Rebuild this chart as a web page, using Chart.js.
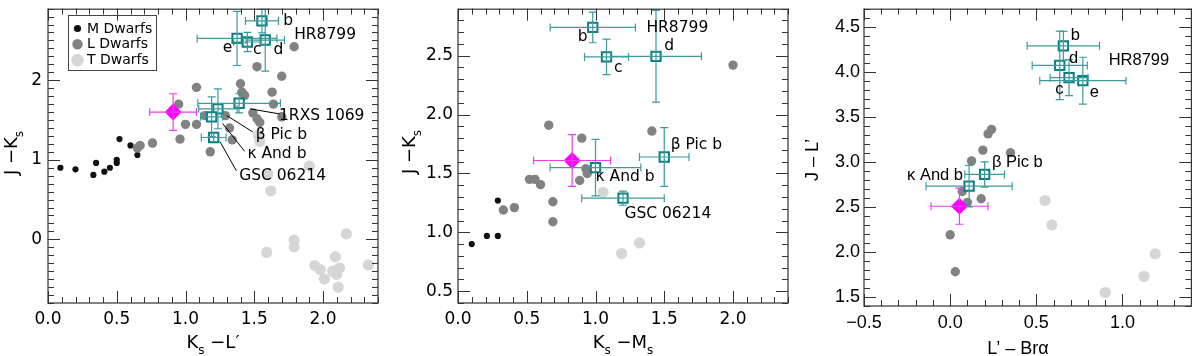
<!DOCTYPE html>
<html>
<head>
<meta charset="utf-8">
<script src="https://cdn.jsdelivr.net/npm/chart.js@4.4.1/dist/chart.umd.min.js"></script>
<style>
  html, body { margin: 0; padding: 0; background: #fff; }
  #wrap { display: flex; width: 1200px; height: 356px; }
  canvas { display: block; }
</style>
</head>
<body>
<div id="wrap">
  <canvas id="c1" width="400" height="356"></canvas>
  <canvas id="c2" width="400" height="356"></canvas>
  <canvas id="c3" width="400" height="356"></canvas>
</div>
<script>
// ---- panel 1: Ks-L' vs J-Ks ----
const p1M = [[0.09,0.90],[0.20,0.88],[0.33,0.81],[0.35,0.96],[0.41,0.85],[0.45,0.90],[0.50,0.96],[0.50,1.00],[0.52,1.26],[0.60,1.18],[0.65,1.06]];
const p1L = [[1.79,2.42],[1.52,2.17],[1.70,2.05],[1.08,1.91],[1.40,1.955],[1.41,1.85],[1.43,1.81],[1.63,1.85],[1.64,1.70],[0.95,1.70],[1.49,1.59],[1.52,1.515],[1.54,1.47],[1.70,1.54],[1.00,1.445],[1.08,1.445],[1.29,1.555],[1.32,1.40],[1.34,1.25],[0.96,1.26],[1.18,1.10],[0.76,1.21],[0.67,1.18],[0.65,1.15],[1.14,1.555]];
const p1T = [[1.53,1.31],[1.54,1.23],[1.90,0.92],[1.60,0.82],[1.62,0.61],[1.59,-0.165],[1.79,-0.01],[1.79,-0.095],[2.17,0.07],[2.09,-0.22],[2.33,-0.32],[1.94,-0.33],[1.98,-0.38],[2.01,-0.50],[2.07,-0.40],[2.10,-0.44],[2.12,-0.36],[2.11,-0.60]];
const p1Names = ['HR8799 b','HR8799 c','HR8799 d','HR8799 e','1RXS 1069','β Pic b','κ And b','GSC 06214'];
const p1PlX = [1.556,1.45,1.58,1.375,1.39,1.236,1.19,1.205];
const p1PlY = [2.745,2.48,2.505,2.525,1.71,1.64,1.54,1.28];
const p1PlXerr = [0.12,0.10,0.14,0.29,0.30,0.14,0.08,0.09];
const p1PlYerr = [0.15,0.12,0.39,0.34,0.12,0.25,0.25,0.05];
const p1ObjX = [0.91], p1ObjY = [1.60], p1ObjXerr = [0.17], p1ObjYerr = [0.23];
const p1TicksX = [0, 0.5, 1, 1.5, 2];
const p1TicksY = [0, 1, 2];

// ---- panel 2: Ks-Ms vs J-Ks ----
const p2M = [[0.10,0.90],[0.21,0.97],[0.29,0.97],[0.29,1.27]];
const p2L = [[2.00,2.42],[0.66,1.91],[0.90,1.80],[1.41,1.86],[0.93,1.54],[0.94,1.50],[0.885,1.44],[0.52,1.45],[0.56,1.45],[0.60,1.405],[0.69,1.26],[0.69,1.09],[0.33,1.19],[0.41,1.21]];
const p2T = [[1.055,1.34],[1.19,0.82],[1.32,0.91]];
const p2Names = ['HR8799 b','HR8799 c','HR8799 d','β Pic b','κ And b','GSC 06214'];
const p2PlX = [0.98,1.08,1.44,1.50,1.00,1.20];
const p2PlY = [2.74,2.49,2.495,1.64,1.55,1.29];
const p2PlXerr = [0.31,0.16,0.33,0.18,0.33,0.30];
const p2PlYerr = [0.13,0.15,0.39,0.25,0.24,0.06];
const p2ObjX = [0.83], p2ObjY = [1.61], p2ObjXerr = [0.28], p2ObjYerr = [0.22];
const p2TicksX = [0, 0.5, 1, 1.5, 2];
const p2TicksY = [0.5, 1, 1.5, 2, 2.5];

// ---- panel 3: L'-Bra vs J-L' ----
const p3L = [[0.24,3.36],[0.22,3.31],[0.19,3.13],[0.35,3.10],[0.124,3.01],[0.07,2.67],[0.10,2.55],[0.18,2.59],[0.0,2.19],[0.03,1.78]];
const p3T = [[0.55,2.57],[0.59,2.30],[1.19,1.98],[1.125,1.73],[0.90,1.55]];
const p3Names = ['HR8799 b','HR8799 c','HR8799 d','HR8799 e','β Pic b','κ And b'];
const p3PlX = [0.657,0.69,0.636,0.77,0.20,0.11];
const p3PlY = [4.287,3.934,4.07,3.90,2.86,2.73];
const p3PlXerr = [0.21,0.11,0.16,0.25,0.115,0.25];
const p3PlYerr = [0.16,0.20,0.38,0.26,0.14,0.23];
const p3ObjX = [0.054], p3ObjY = [2.507], p3ObjXerr = [0.165], p3ObjYerr = [0.2];
const p3TicksX = [-0.5, 0, 0.5, 1];
const p3TicksY = [1.5, 2, 2.5, 3, 3.5, 4, 4.5];

const TEAL = '#0b7f7f', TEAL_BAR = '#3c9c9c', MAG = '#ff00ff', MAG_BAR = '#f03cf0';
const GRAY_M = '#111', GRAY_L = '#828282', GRAY_T = '#d6d6d6';

const pts = a => a.map(p => ({ x: p[0], y: p[1] }));
const zip = (xs, ys) => xs.map((v, i) => ({ x: v, y: ys[i] }));

// error bars drawn from the dataset values through the scales
const errBars = {
  id: 'errBars',
  afterDatasetsDraw(chart) {
    const { ctx, chartArea: a, scales: { x, y } } = chart;
    ctx.save();
    ctx.beginPath();
    ctx.rect(a.left, a.top, a.right - a.left, a.bottom - a.top);
    ctx.clip();
    chart.data.datasets.forEach(ds => {
      if (!ds.xErr) return;
      ctx.strokeStyle = ds.errColor;
      ctx.lineWidth = 1.2;
      ds.data.forEach((p, i) => {
        const px = x.getPixelForValue(p.x), py = y.getPixelForValue(p.y);
        const x0 = x.getPixelForValue(p.x - ds.xErr[i]), x1 = x.getPixelForValue(p.x + ds.xErr[i]);
        const y0 = y.getPixelForValue(p.y - ds.yErr[i]), y1 = y.getPixelForValue(p.y + ds.yErr[i]);
        const c = 4;
        ctx.beginPath();
        ctx.moveTo(x0, py); ctx.lineTo(x1, py);
        ctx.moveTo(px, y0); ctx.lineTo(px, y1);
        ctx.moveTo(x0, py - c); ctx.lineTo(x0, py + c);
        ctx.moveTo(x1, py - c); ctx.lineTo(x1, py + c);
        ctx.moveTo(px - c, y0); ctx.lineTo(px + c, y0);
        ctx.moveTo(px - c, y1); ctx.lineTo(px + c, y1);
        ctx.stroke();
      });
    });
    ctx.restore();
  }
};

function steps(min, max, step) {
  const out = [];
  for (let k = Math.ceil(min / step - 1e-9); k * step <= max + 1e-9; k++) out.push(k * step);
  return out;
}

// box with inward major/minor ticks on all four sides
const frame = {
  id: 'frame',
  afterDraw(chart, args, o) {
    const { ctx, chartArea: a, scales: { x, y } } = chart;
    ctx.save();
    ctx.strokeStyle = '#333';
    ctx.lineWidth = 1.2;
    ctx.strokeRect(a.left, a.top + 0.6, a.right - a.left, a.bottom - a.top - 0.6);
    ctx.lineWidth = 1;
    ctx.beginPath();
    steps(x.min, x.max, 0.1).forEach(v => {
      const major = Math.abs(v / o.xMajor - Math.round(v / o.xMajor)) < 1e-6;
      const len = major ? 12 : 6, px = Math.round(x.getPixelForValue(v)) + 0.5;
      ctx.moveTo(px, a.bottom); ctx.lineTo(px, a.bottom - len);
      ctx.moveTo(px, a.top); ctx.lineTo(px, a.top + len);
    });
    steps(y.min, y.max, 0.1).forEach(v => {
      const major = Math.abs(v / o.yMajor - Math.round(v / o.yMajor)) < 1e-6;
      const len = major ? 12 : 6, py = Math.round(y.getPixelForValue(v)) + 0.5;
      ctx.moveTo(a.left, py); ctx.lineTo(a.left + len, py);
      ctx.moveTo(a.right, py); ctx.lineTo(a.right - len, py);
    });
    ctx.stroke();
    ctx.restore();
  }
};

function drawRich(ctx, parts, x, y, size, family, rotate) {
  ctx.save();
  ctx.translate(x, y);
  if (rotate) ctx.rotate(-Math.PI / 2);
  const big = size + 'px "' + family + '"';
  const small = Math.round(size * 0.66) + 'px "' + family + '"';
  let w = 0;
  parts.forEach(p => { ctx.font = p[1] ? small : big; w += ctx.measureText(p[0]).width; });
  let cx = -w / 2;
  ctx.fillStyle = '#000';
  ctx.textAlign = 'left';
  ctx.textBaseline = 'alphabetic';
  parts.forEach(p => {
    ctx.font = p[1] ? small : big;
    ctx.fillText(p[0], cx, p[1] ? size * 0.32 : 0);
    cx += ctx.measureText(p[0]).width;
  });
  ctx.restore();
}

// labels, leader lines, axis titles and legend
const notes = {
  id: 'notes',
  afterDraw(chart, args, o) {
    const { ctx, scales: { x, y } } = chart;
    ctx.save();
    ctx.strokeStyle = '#000';
    ctx.lineWidth = 1;
    (o.leaders || []).forEach(l => {
      ctx.beginPath();
      ctx.moveTo(x.getPixelForValue(l[0]), y.getPixelForValue(l[1]));
      ctx.lineTo(x.getPixelForValue(l[2]), y.getPixelForValue(l[3]));
      ctx.stroke();
    });
    ctx.fillStyle = '#000';
    ctx.textAlign = 'left';
    ctx.textBaseline = 'middle';
    ctx.font = o.noteSize + 'px "' + o.family + '"';
    (o.labels || []).forEach(l => ctx.fillText(l.t, x.getPixelForValue(l.x), y.getPixelForValue(l.y)));
    drawRich(ctx, o.xTitle, o.xTitlePos[0], o.xTitlePos[1], o.titleSize, o.family, false);
    drawRich(ctx, o.yTitle, o.yTitlePos[0], o.yTitlePos[1], o.titleSize, o.family, true);
    if (o.legend) {
      const L = o.legend;
      ctx.strokeStyle = '#444';
      ctx.lineWidth = 1;
      ctx.strokeRect(L.x + 0.5, L.y + 0.5, L.w, L.h);
      ctx.font = '14px "' + o.family + '"';
      ctx.textBaseline = 'middle';
      L.items.forEach((it, i) => {
        const cy = L.y + 13.5 + i * 15.8;
        const ds = chart.data.datasets[it];
        ctx.fillStyle = ds.backgroundColor;
        ctx.beginPath();
        ctx.arc(L.x + 9.5, cy, ds.legendRadius, 0, Math.PI * 2);
        ctx.fill();
        ctx.fillStyle = '#000';
        ctx.fillText(ds.label, L.x + 19, cy + 0.5);
      });
    }
    ctx.restore();
  }
};

function makeSets(M, L, T, plX, plY, plXe, plYe, names, oX, oY, oXe, oYe) {
  const sets = [
    { label: 'Object', data: zip(oX, oY), pointStyle: 'rectRot', pointRadius: 8.5, backgroundColor: MAG, borderColor: MAG, borderWidth: 0, xErr: oXe, yErr: oYe, errColor: MAG_BAR },
    { label: 'Planets', names: names, data: zip(plX, plY), pointStyle: 'rect', pointRadius: 6.6, backgroundColor: '#fff', borderColor: TEAL, borderWidth: 2, xErr: plXe, yErr: plYe, errColor: TEAL_BAR }
  ];
  if (T) sets.push({ label: 'T Dwarfs', data: pts(T), pointRadius: 5.6, backgroundColor: GRAY_T, borderWidth: 0, legendRadius: 6.3 });
  if (L) sets.push({ label: 'L Dwarfs', data: pts(L), pointRadius: 4.7, backgroundColor: GRAY_L, borderWidth: 0, legendRadius: 5.2 });
  if (M) sets.push({ label: 'M Dwarfs', data: pts(M), pointRadius: 3.1, backgroundColor: GRAY_M, borderWidth: 0, legendRadius: 3.6 });
  return sets;
}

function makePanel(id, p) {
  const fmt = (v, d) => v.toFixed(d).replace('-', '\u2212');
  return new Chart(document.getElementById(id), {
    type: 'scatter',
    data: { datasets: p.sets },
    options: {
      responsive: false,
      animation: false,
      events: [],
      layout: { padding: { left: 0, right: p.padRight, top: 0, bottom: 0 } },
      scales: {
        x: {
          type: 'linear', min: p.xMin, max: p.xMax,
          grid: { display: false, drawTicks: false },
          border: { display: false },
          afterBuildTicks: s => { s.ticks = p.ticksX.map(v => ({ value: v })); },
          afterFit: s => { s.height = p.bottomH; s.paddingLeft = 0; s.paddingRight = 0; },
          ticks: { autoSkip: false, maxRotation: 0, padding: p.xPad, color: '#000',
                   font: { family: p.family, size: p.tickSize },
                   callback: v => fmt(v, p.xDigits) }
        },
        y: {
          type: 'linear', min: p.yMin, max: p.yMax,
          grid: { display: false, drawTicks: false },
          border: { display: false },
          afterBuildTicks: s => { s.ticks = p.ticksY.map(v => ({ value: v })); },
          afterFit: s => { s.width = p.leftW; s.paddingTop = 0; s.paddingBottom = 0; },
          ticks: { autoSkip: false, padding: p.yPad, color: '#000',
                   font: { family: p.family, size: p.tickSize },
                   callback: v => fmt(v, p.yDigits) }
        }
      },
      plugins: {
        legend: { display: false },
        tooltip: { enabled: false },
        frame: { xMajor: 0.5, yMajor: p.yMajor },
        notes: p.notes
      }
    },
    plugins: [errBars, frame, notes]
  });
}

makePanel('c1', {
  sets: makeSets(p1M, p1L, p1T, p1PlX, p1PlY, p1PlXerr, p1PlYerr, p1Names, p1ObjX, p1ObjY, p1ObjXerr, p1ObjYerr),
  xMin: 0, xMax: 2.4, yMin: -0.8, yMax: 2.9, ticksX: p1TicksX, ticksY: p1TicksY,
  xDigits: 1, yDigits: 0, yMajor: 1,
  family: 'DejaVu Sans', tickSize: 17, leftW: 48, bottomH: 53, padRight: 22, xPad: 6, yPad: 6,
  notes: {
    family: 'DejaVu Sans', noteSize: 15.5, titleSize: 18,
    labels: [
      { t: 'b', x: 1.71, y: 2.745 }, { t: 'HR8799', x: 1.79, y: 2.57 },
      { t: 'e', x: 1.27, y: 2.41 }, { t: 'c', x: 1.49, y: 2.38 }, { t: 'd', x: 1.64, y: 2.38 },
      { t: '1RXS 1069', x: 1.68, y: 1.555 }, { t: 'β Pic b', x: 1.51, y: 1.31 },
      { t: 'κ And b', x: 1.45, y: 1.07 }, { t: 'GSC 06214', x: 1.39, y: 0.80 }
    ],
    leaders: [[1.47, 1.64, 1.685, 1.576], [1.30, 1.555, 1.49, 1.35], [1.27, 1.455, 1.43, 1.107], [1.25, 1.23, 1.37, 0.862]],
    xTitle: [['K'], ['s', 1], [' \u2212L\u2032']], xTitlePos: [213, 348],
    yTitle: [['J \u2212K'], ['s', 1]], yTitlePos: [17, 153],
    legend: { x: 68, y: 15, w: 88, h: 55, items: [4, 3, 2] }
  }
});

makePanel('c2', {
  sets: makeSets(p2M, p2L, p2T, p2PlX, p2PlY, p2PlXerr, p2PlYerr, p2Names, p2ObjX, p2ObjY, p2ObjXerr, p2ObjYerr),
  xMin: 0, xMax: 2.4, yMin: 0.4, yMax: 2.9, ticksX: p2TicksX, ticksY: p2TicksY,
  xDigits: 1, yDigits: 1, yMajor: 0.5,
  family: 'DejaVu Sans', tickSize: 17, leftW: 58, bottomH: 53, padRight: 12, xPad: 6, yPad: 5,
  notes: {
    family: 'DejaVu Sans', noteSize: 15.5, titleSize: 18,
    labels: [
      { t: 'b', x: 0.87, y: 2.66 }, { t: 'HR8799', x: 1.37, y: 2.735 },
      { t: 'd', x: 1.50, y: 2.585 }, { t: 'c', x: 1.135, y: 2.396 },
      { t: 'β Pic b', x: 1.547, y: 1.744 }, { t: 'κ And b', x: 1.00, y: 1.474 },
      { t: 'GSC 06214', x: 1.21, y: 1.152 }
    ],
    leaders: [],
    xTitle: [['K'], ['s', 1], [' \u2212M'], ['s', 1]], xTitlePos: [223, 348],
    yTitle: [['J \u2212K'], ['s', 1]], yTitlePos: [15, 152]
  }
});

makePanel('c3', {
  sets: makeSets(null, p3L, p3T, p3PlX, p3PlY, p3PlXerr, p3PlYerr, p3Names, p3ObjX, p3ObjY, p3ObjXerr, p3ObjYerr),
  xMin: -0.5, xMax: 1.4, yMin: 1.4, yMax: 4.7, ticksX: p3TicksX, ticksY: p3TicksY,
  xDigits: 1, yDigits: 1, yMajor: 0.5,
  family: 'Liberation Sans', tickSize: 18, leftW: 64, bottomH: 50, padRight: 2, xPad: 6, yPad: 4,
  notes: {
    family: 'Liberation Sans', noteSize: 16.5, titleSize: 18,
    labels: [
      { t: 'b', x: 0.70, y: 4.405 }, { t: 'd', x: 0.69, y: 4.15 }, { t: 'HR8799', x: 0.92, y: 4.125 },
      { t: 'c', x: 0.61, y: 3.80 }, { t: 'e', x: 0.81, y: 3.765 },
      { t: 'β Pic b', x: 0.243, y: 2.99 }, { t: 'κ And b', x: -0.25, y: 2.85 }
    ],
    leaders: [],
    xTitle: [['L\u2019 \u2013 Br\u03b1']], xTitlePos: [218, 354],
    yTitle: [['J \u2013 L\u2019']], yTitlePos: [18, 160]
  }
});
</script>
</body>
</html>
